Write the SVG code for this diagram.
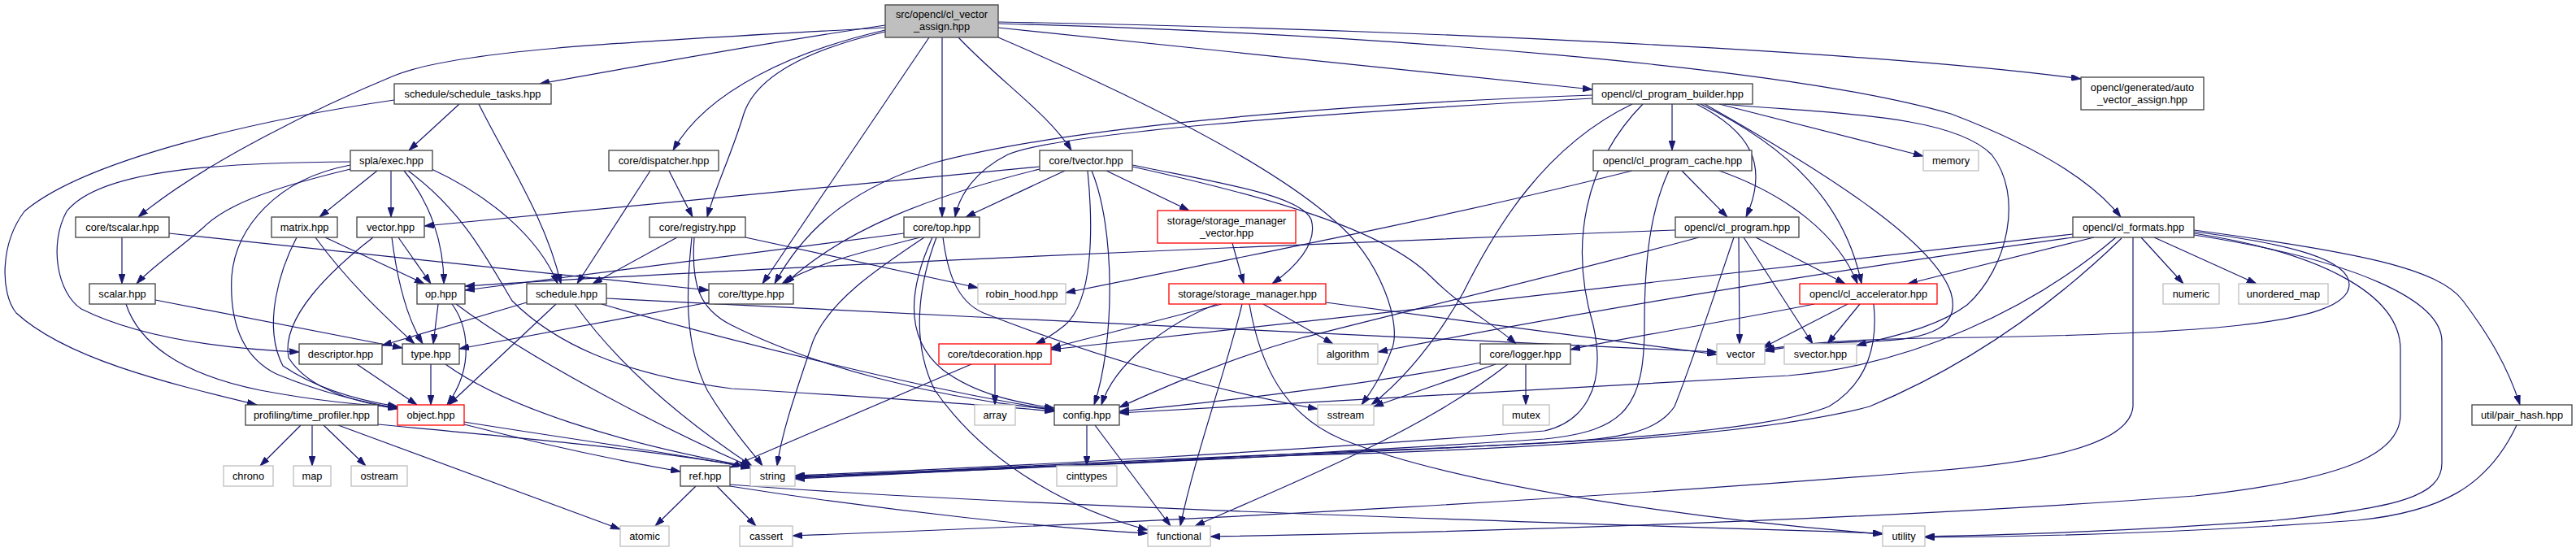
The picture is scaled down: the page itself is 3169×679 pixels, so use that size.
<svg xmlns="http://www.w3.org/2000/svg" width="3169" height="679" viewBox="0 0 3169 679">
<style>
.n rect{fill:#fff;stroke:#404040;stroke-width:1.3}
.g rect{fill:#fff;stroke:#bfbfbf;stroke-width:1.3}
.r rect{fill:#fff;stroke:#ff0000;stroke-width:1.3}
.rt rect{fill:#bfbfbf;stroke:#404040;stroke-width:1.3}
text{font-family:"Liberation Sans",Arial,Helvetica,sans-serif;font-size:12.8px;fill:#000;text-anchor:middle}
#edges path{fill:none;stroke:#191970;stroke-width:1.2;marker-end:url(#a)}
</style>
<defs>
<marker id="a" viewBox="0 0 12 8" markerWidth="12" markerHeight="8" markerUnits="userSpaceOnUse" refX="12" refY="4" orient="auto">
<path d="M0,0 L12,4 L0,8 z" fill="#191970" stroke="#191970" stroke-width="0.8"/>
</marker>
</defs>
<rect width="3169" height="679" fill="#fff"/>
<g id="edges">
<path d="M1089,31 C960,50 780,82 664,103"/>
<path d="M1089,34 C760,52 560,62 485,93 C400,128 250,200 170,267"/>
<path d="M1089,37 C980,62 870,110 828,185"/>
<path d="M1089,39 C990,62 930,95 915,140 C900,190 880,230 870,267"/>
<path d="M1143,46 L938,349"/>
<path d="M1159,46 L1159,267"/>
<path d="M1179,46 C1230,100 1290,140 1318,185"/>
<path d="M1228,46 C1400,120 1560,200 1640,270 C1700,320 1725,400 1712,430 C1700,462 1688,480 1675,498"/>
<path d="M1228,34 L1959,110"/>
<path d="M1228,27 C1700,35 2300,62 2560,97"/>
<path d="M1228,29 C1700,42 2200,82 2400,140 C2500,178 2572,220 2609,267"/>
<path d="M565,128 L503,185"/>
<path d="M589,128 C625,200 672,270 690,349"/>
<path d="M485,123 C300,150 100,200 30,260 C0,300 0,360 20,385 C80,440 200,470 316,498"/>
<path d="M431,199 C250,200 120,212 82,260 C60,300 70,360 100,380 C180,420 300,430 368,433"/>
<path d="M431,203 C340,220 290,280 285,340 C282,400 300,440 340,460 C400,485 450,495 489,502"/>
<path d="M431,208 C340,230 280,250 250,280 C215,310 185,330 168,349"/>
<path d="M464,210 L393,267"/>
<path d="M481,210 L481,267"/>
<path d="M497,210 C530,250 546,300 546,349"/>
<path d="M502,210 C570,260 600,320 630,370 C680,420 760,460 900,478 C1100,490 1200,497 1297,506"/>
<path d="M531,208 C600,240 662,290 686,349"/>
<path d="M150,292 L150,349"/>
<path d="M208,287 L872,357"/>
<path d="M800,210 L710,349"/>
<path d="M823,210 L852,267"/>
<path d="M365,292 C345,330 322,400 348,450 C395,482 450,494 489,500"/>
<path d="M388,292 C430,350 480,395 510,423"/>
<path d="M400,292 L522,349"/>
<path d="M459,292 C410,330 345,390 355,440 C380,480 440,495 489,503"/>
<path d="M482,292 C488,340 500,390 520,423"/>
<path d="M490,292 L530,349"/>
<path d="M833,292 L729,349"/>
<path d="M851,292 C845,350 840,420 870,480 C900,530 925,555 938,573"/>
<path d="M854,292 C850,350 860,380 900,400 C1000,450 1150,490 1297,504"/>
<path d="M917,292 L1203,354"/>
<path d="M1112,287 L572,357"/>
<path d="M1132,292 C1060,310 1000,325 962,349"/>
<path d="M1137,292 C1080,330 1020,370 1000,420 C980,480 962,530 956,573"/>
<path d="M1147,292 C1125,340 1105,410 1160,455 C1200,485 1250,495 1297,502"/>
<path d="M1152,292 C1130,350 1120,420 1150,480 C1220,580 1330,630 1412,652"/>
<path d="M1160,292 C1165,330 1175,370 1210,385 C1350,440 1500,482 1621,503"/>
<path d="M1279,205 L522,278"/>
<path d="M1279,208 C1150,240 1040,280 966,349"/>
<path d="M1310,210 L1188,267"/>
<path d="M1338,210 C1345,280 1345,370 1310,400 C1295,412 1285,418 1274,423"/>
<path d="M1343,210 C1372,280 1372,420 1346,498"/>
<path d="M1361,210 L1463,259"/>
<path d="M1393,203 C1500,225 1600,240 1613,270 C1622,300 1592,330 1565,349"/>
<path d="M1393,205 C1550,240 1700,280 1760,340 C1800,380 1840,400 1865,423"/>
<path d="M1516,299 L1530,349"/>
<path d="M1503,374 L1293,428"/>
<path d="M1497,374 C1430,400 1370,450 1355,498"/>
<path d="M1528,374 C1510,450 1470,560 1452,647"/>
<path d="M1537,374 C1550,450 1580,510 1650,540 C1800,600 2100,640 2316,657"/>
<path d="M1554,374 L1640,423"/>
<path d="M1631,372 C1800,395 2000,420 2112,436"/>
<path d="M1959,117 C1600,130 1300,160 1150,200 C1050,230 990,280 953,349"/>
<path d="M1959,121 C1600,140 1300,165 1240,190 C1200,210 1180,240 1175,267"/>
<path d="M2008,128 C1900,180 1840,280 1800,360 C1760,430 1720,472 1687,498"/>
<path d="M2021,128 C1950,200 1930,300 1960,400 C1978,480 1945,520 1900,530 C1600,555 1200,576 978,585"/>
<path d="M2057,128 L2057,185"/>
<path d="M2087,128 C2150,160 2178,200 2148,267"/>
<path d="M2092,128 C2200,180 2270,250 2290,349"/>
<path d="M2097,128 C2260,220 2380,300 2400,360 C2412,400 2380,418 2300,420 C2230,422 2190,428 2171,432"/>
<path d="M2120,128 C2250,140 2400,140 2450,190 C2490,240 2470,330 2420,375 C2380,405 2320,415 2284,425"/>
<path d="M2115,128 L2366,192"/>
<path d="M2008,210 C1800,262 1600,302 1311,360"/>
<path d="M2053,210 C2030,260 2023,320 2023,400 C2023,500 2000,530 1900,540 C1600,560 1200,578 978,586"/>
<path d="M2069,210 L2125,267"/>
<path d="M2115,210 C2200,240 2262,290 2285,349"/>
<path d="M2061,283 C1600,300 900,330 572,352"/>
<path d="M2090,292 C1950,330 1700,390 1600,416 C1500,445 1420,482 1377,501"/>
<path d="M2133,292 C2110,360 2080,450 2060,500 C2040,530 2000,540 1900,545 C1600,560 1200,580 978,587"/>
<path d="M2139,292 L2140,423"/>
<path d="M2145,292 L2230,423"/>
<path d="M2160,292 L2270,349"/>
<path d="M2232,374 C2100,400 2000,415 1932,430"/>
<path d="M2273,374 L2168,428"/>
<path d="M2288,374 L2248,423"/>
<path d="M2305,374 C2310,420 2300,470 2250,500 C2150,540 1800,550 1600,558 C1300,570 1100,582 978,588"/>
<path d="M2550,288 C2200,330 1700,385 1293,430"/>
<path d="M2550,292 C2200,340 1900,392 1695,433"/>
<path d="M2576,292 L2347,349"/>
<path d="M2603,292 C2500,380 2350,450 2200,462 C1900,480 1600,497 1377,508"/>
<path d="M2610,293 C2520,380 2420,450 2300,500 C2150,540 1800,555 1600,560 C1300,572 1100,584 978,589"/>
<path d="M2624,292 L2624,500 C2620,550 2500,570 2369,580 C2000,610 1500,640 975,659"/>
<path d="M2634,292 L2686,349"/>
<path d="M2650,292 L2776,349"/>
<path d="M2699,285 C2820,300 2890,320 2890,350 C2890,400 2700,412 2369,416 C2250,418 2200,425 2171,430"/>
<path d="M2699,287 C2850,310 2953,360 2953,430 L2953,510 C2953,560 2880,590 2700,610 C2300,640 1800,655 1489,660"/>
<path d="M2699,289 C2900,320 3004,370 3004,420 L3004,570 C3004,610 2950,625 2800,640 C2600,655 2450,658 2368,660"/>
<path d="M2699,283 C2900,310 3000,330 3030,370 C3060,410 3085,450 3100,498"/>
<path d="M1877,448 L1877,498"/>
<path d="M1840,448 L1690,500"/>
<path d="M1822,446 C1700,470 1500,495 1377,506"/>
<path d="M1855,448 C1750,530 1600,590 1470,647"/>
<path d="M1337,523 L1337,573"/>
<path d="M1347,523 L1440,647"/>
<path d="M1224,448 L1224,498"/>
<path d="M1195,448 L898,575"/>
<path d="M856,598 L806,647"/>
<path d="M882,598 L930,647"/>
<path d="M898,596 C1200,620 1800,640 2316,656"/>
<path d="M898,598 C1100,630 1300,650 1412,656"/>
<path d="M370,523 L320,573"/>
<path d="M384,523 L384,573"/>
<path d="M398,523 L450,573"/>
<path d="M416,523 L763,651"/>
<path d="M465,522 C600,535 800,552 923,575"/>
<path d="M571,519 C700,540 850,560 923,576"/>
<path d="M571,522 C700,555 780,570 837,580"/>
<path d="M530,448 L530,498"/>
<path d="M548,448 C620,500 760,545 923,574"/>
<path d="M539,374 L533,423"/>
<path d="M556,374 C575,400 585,450 550,498"/>
<path d="M561,374 C650,440 800,520 923,574"/>
<path d="M439,448 L513,498"/>
<path d="M191,369 L495,428"/>
<path d="M155,374 C170,420 220,460 320,480 C400,495 450,498 489,501"/>
<path d="M648,372 L470,425"/>
<path d="M684,374 L552,498"/>
<path d="M707,374 C740,420 800,490 925,573"/>
<path d="M746,367 C1200,390 1700,415 2112,433"/>
<path d="M740,374 C900,420 1150,482 1297,504"/>
<path d="M872,372 C750,395 640,415 565,429"/>
<path d="M3096,523 C3060,600 3000,630 2900,640 C2700,655 2500,660 2368,661"/>
</g>
<g id="root" class="rt"><rect x="1089" y="6" width="139" height="40"/><text x="1158.5" y="22">src/opencl/cl_vector</text><text x="1158.5" y="37">_assign.hpp</text></g>
<g id="schedule_tasks" class="n"><rect x="485" y="103" width="193" height="25"/><text x="581.5" y="120">schedule/schedule_tasks.hpp</text></g>
<g id="cl_program_builder" class="n"><rect x="1959" y="103" width="197" height="25"/><text x="2057.5" y="120">opencl/cl_program_builder.hpp</text></g>
<g id="auto_vector_assign" class="n"><rect x="2560" y="95" width="151" height="40"/><text x="2635.5" y="111.5">opencl/generated/auto</text><text x="2635.5" y="126.5">_vector_assign.hpp</text></g>
<g id="exec" class="n"><rect x="431" y="185" width="101" height="25"/><text x="481.5" y="202">spla/exec.hpp</text></g>
<g id="dispatcher" class="n"><rect x="749" y="185" width="135" height="25"/><text x="816.5" y="202">core/dispatcher.hpp</text></g>
<g id="tvector" class="n"><rect x="1279" y="185" width="114" height="25"/><text x="1336" y="202">core/tvector.hpp</text></g>
<g id="cl_program_cache" class="n"><rect x="1960" y="185" width="195" height="25"/><text x="2057.5" y="202">opencl/cl_program_cache.hpp</text></g>
<g id="memory" class="g"><rect x="2366" y="185" width="68" height="25"/><text x="2400" y="202">memory</text></g>
<g id="tscalar" class="n"><rect x="93" y="267" width="115" height="25"/><text x="150.5" y="284">core/tscalar.hpp</text></g>
<g id="matrix" class="n"><rect x="334" y="267" width="81" height="25"/><text x="374.5" y="284">matrix.hpp</text></g>
<g id="vector_hpp" class="n"><rect x="439" y="267" width="83" height="25"/><text x="480.5" y="284">vector.hpp</text></g>
<g id="registry" class="n"><rect x="799" y="267" width="118" height="25"/><text x="858" y="284">core/registry.hpp</text></g>
<g id="top" class="n"><rect x="1112" y="267" width="93" height="25"/><text x="1158.5" y="284">core/top.hpp</text></g>
<g id="storage_manager_vector" class="r"><rect x="1424" y="259" width="170" height="40"/><text x="1509" y="276">storage/storage_manager</text><text x="1509" y="290.5">_vector.hpp</text></g>
<g id="cl_program" class="n"><rect x="2061" y="267" width="152" height="25"/><text x="2137" y="284">opencl/cl_program.hpp</text></g>
<g id="cl_formats" class="n"><rect x="2550" y="267" width="149" height="25"/><text x="2624.5" y="284">opencl/cl_formats.hpp</text></g>
<g id="scalar" class="n"><rect x="110" y="349" width="81" height="25"/><text x="150.5" y="366">scalar.hpp</text></g>
<g id="op" class="n"><rect x="513" y="349" width="59" height="25"/><text x="542.5" y="366">op.hpp</text></g>
<g id="schedule" class="n"><rect x="648" y="349" width="98" height="25"/><text x="697" y="366">schedule.hpp</text></g>
<g id="ttype" class="n"><rect x="872" y="349" width="104" height="25"/><text x="924" y="366">core/ttype.hpp</text></g>
<g id="robin_hood" class="g"><rect x="1203" y="349" width="108" height="25"/><text x="1257" y="366">robin_hood.hpp</text></g>
<g id="storage_manager" class="r"><rect x="1438" y="349" width="193" height="25"/><text x="1534.5" y="366">storage/storage_manager.hpp</text></g>
<g id="cl_accelerator" class="r"><rect x="2214" y="349" width="169" height="25"/><text x="2298.5" y="366">opencl/cl_accelerator.hpp</text></g>
<g id="numeric" class="g"><rect x="2661" y="349" width="69" height="25"/><text x="2695.5" y="366">numeric</text></g>
<g id="unordered_map" class="g"><rect x="2754" y="349" width="110" height="25"/><text x="2809" y="366">unordered_map</text></g>
<g id="descriptor" class="n"><rect x="368" y="423" width="102" height="25"/><text x="419" y="440">descriptor.hpp</text></g>
<g id="type" class="n"><rect x="495" y="423" width="70" height="25"/><text x="530" y="440">type.hpp</text></g>
<g id="tdecoration" class="r"><rect x="1155" y="423" width="138" height="25"/><text x="1224" y="440">core/tdecoration.hpp</text></g>
<g id="algorithm" class="g"><rect x="1621" y="423" width="74" height="25"/><text x="1658" y="440">algorithm</text></g>
<g id="logger" class="n"><rect x="1821" y="423" width="111" height="25"/><text x="1876.5" y="440">core/logger.hpp</text></g>
<g id="vector" class="g"><rect x="2112" y="423" width="59" height="25"/><text x="2141.5" y="440">vector</text></g>
<g id="svector" class="g"><rect x="2195" y="423" width="89" height="25"/><text x="2239.5" y="440">svector.hpp</text></g>
<g id="time_profiler" class="n"><rect x="302" y="498" width="163" height="25"/><text x="383.5" y="515">profiling/time_profiler.hpp</text></g>
<g id="object" class="r"><rect x="489" y="498" width="82" height="25"/><text x="530" y="515">object.hpp</text></g>
<g id="array" class="g"><rect x="1199" y="498" width="50" height="25"/><text x="1224" y="515">array</text></g>
<g id="config" class="n"><rect x="1297" y="498" width="80" height="25"/><text x="1337" y="515">config.hpp</text></g>
<g id="sstream" class="g"><rect x="1621" y="498" width="69" height="25"/><text x="1655.5" y="515">sstream</text></g>
<g id="mutex" class="g"><rect x="1849" y="498" width="57" height="25"/><text x="1877.5" y="515">mutex</text></g>
<g id="pair_hash" class="n"><rect x="3041" y="498" width="123" height="25"/><text x="3102.5" y="515">util/pair_hash.hpp</text></g>
<g id="chrono" class="g"><rect x="275" y="573" width="61" height="25"/><text x="305.5" y="590">chrono</text></g>
<g id="map" class="g"><rect x="361" y="573" width="46" height="25"/><text x="384" y="590">map</text></g>
<g id="ostream" class="g"><rect x="432" y="573" width="69" height="25"/><text x="466.5" y="590">ostream</text></g>
<g id="ref" class="n"><rect x="837" y="573" width="61" height="25"/><text x="867.5" y="590">ref.hpp</text></g>
<g id="string" class="g"><rect x="923" y="573" width="55" height="25"/><text x="950.5" y="590">string</text></g>
<g id="cinttypes" class="g"><rect x="1300" y="573" width="74" height="25"/><text x="1337" y="590">cinttypes</text></g>
<g id="atomic" class="g"><rect x="763" y="647" width="60" height="25"/><text x="793" y="664">atomic</text></g>
<g id="cassert" class="g"><rect x="910" y="647" width="65" height="25"/><text x="942.5" y="664">cassert</text></g>
<g id="functional" class="g"><rect x="1412" y="647" width="77" height="25"/><text x="1450.5" y="664">functional</text></g>
<g id="utility" class="g"><rect x="2316" y="647" width="52" height="25"/><text x="2342" y="664">utility</text></g>
</svg>
